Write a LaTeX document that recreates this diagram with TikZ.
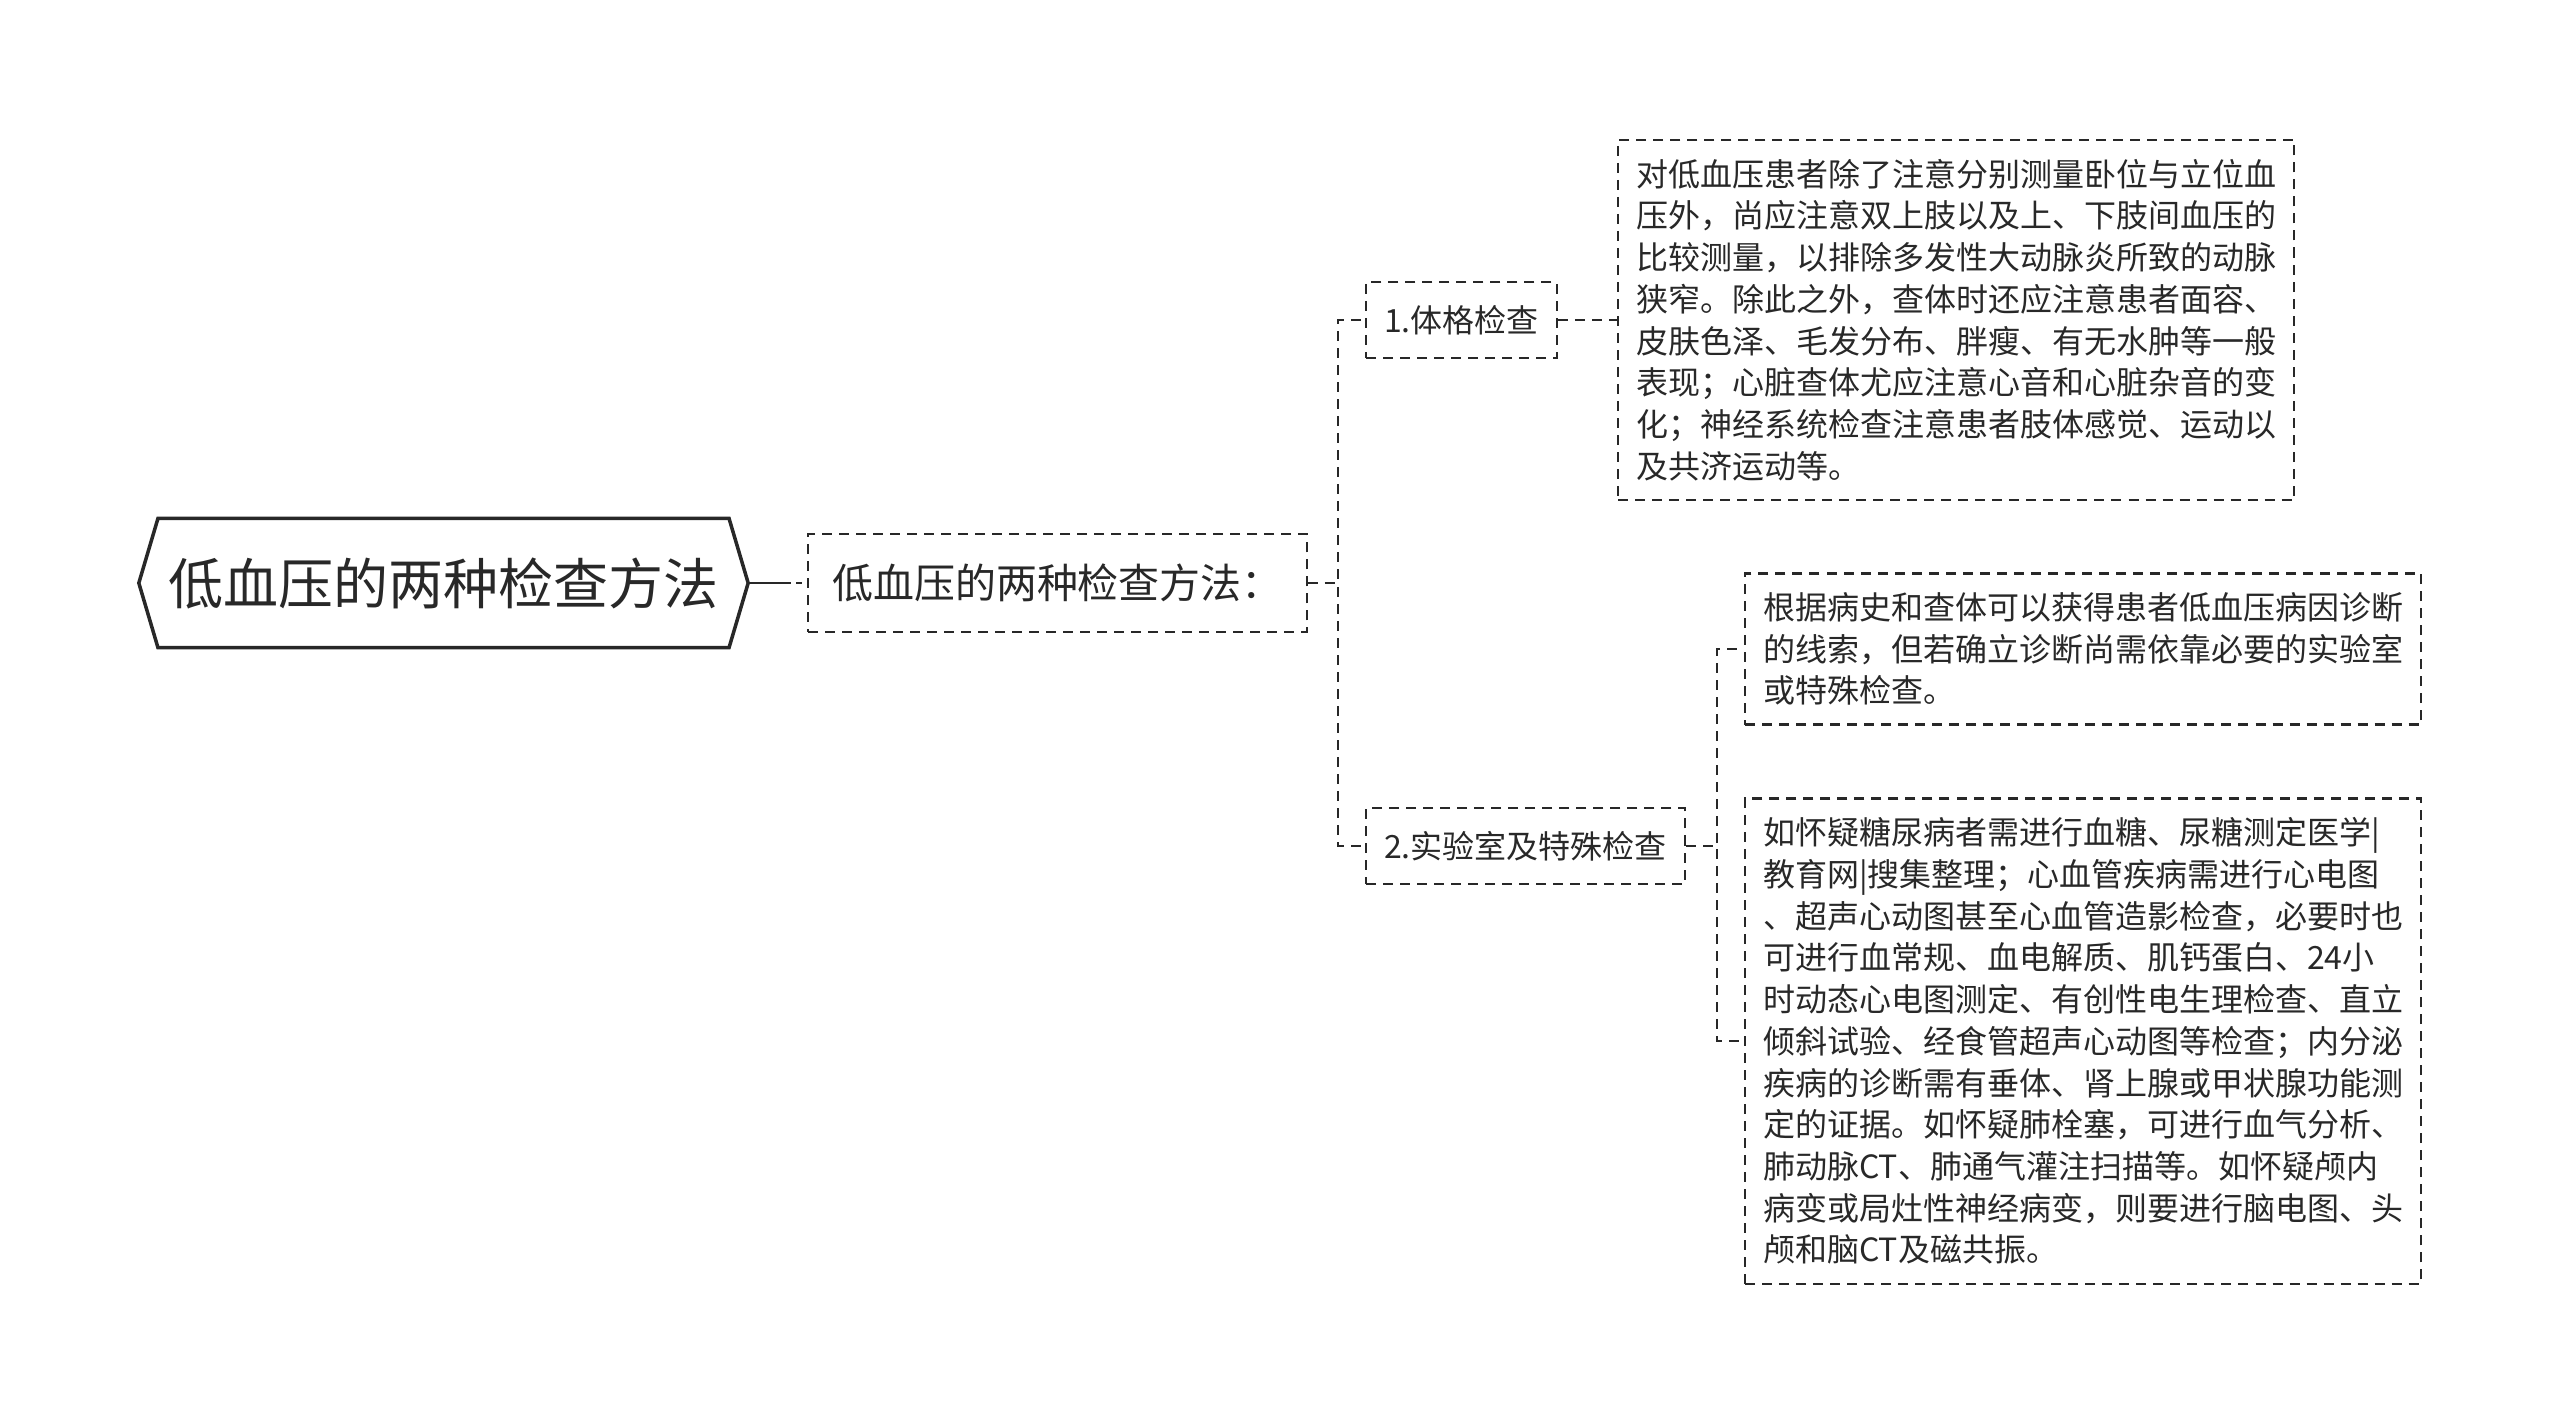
\documentclass[tikz,border=0pt]{standalone}
\usepackage{fontspec}
\setmainfont{Noto Sans CJK SC}
\usetikzlibrary{positioning,shapes.symbols}
\definecolor{inkgray}{RGB}{40,40,40}

\begin{document}
\begin{tikzpicture}[x=0.01cm,y=-0.01cm,
  font=\fontsize{9.1pt}{11.87pt}\selectfont,text=inkgray,
  root/.style={signal,signal to=west and east,signal pointer angle=147,
    draw=inkgray,line width=1pt,minimum width=6.09cm,minimum height=1.29cm,
    inner sep=0pt,font=\fontsize{15.65pt}{18pt}\selectfont},
  block/.style={draw=inkgray,dash pattern=on 0.1cm off 0.07cm,line width=0.65pt,
    align=left,anchor=west,inner xsep=0.18cm},
  sub/.style={block,minimum height=0.76cm},
  leaf/.style={block,inner ysep=0.19cm},
  conn/.style={draw=inkgray,dash pattern=on 0.1cm off 0.07cm,line width=0.65pt},
  rootconn/.style={draw=inkgray,line width=0.8pt,
    dash pattern=on 0.41cm off 0.05cm on 0.06cm off 1cm}]

  \useasboundingbox (0,0) rectangle (2560,1426);

  \node[root] (topic) at (443.5,583) {低血压的两种检查方法};

  \node[block,minimum height=0.98cm,inner xsep=0.24cm,
    font=\fontsize{11.65pt}{13pt}\selectfont] (intro) at (807,583)
    {低血压的两种检查方法：};
  \draw[rootconn] (topic.east) -- (intro.west);

  \node[sub] (exam) at (1365,320) {1.体格检查};
  \node[sub] (lab) at (1365,846) {2.实验室及特殊检查};
  \draw[conn] (intro.east) -- ++(30,0) |- (exam.west);
  \draw[conn] (intro.east) -- ++(30,0) |- (lab.west);

  \node[leaf,right=0.59cm of exam] (examtxt)
    {对低血压患者除了注意分别测量卧位与立位血\\
     压外，尚应注意双上肢以及上、下肢间血压的\\
     比较测量，以排除多发性大动脉炎所致的动脉\\
     狭窄。除此之外，查体时还应注意患者面容、\\
     皮肤色泽、毛发分布、胖瘦、有无水肿等一般\\
     表现；心脏查体尤应注意心音和心脏杂音的变\\
     化；神经系统检查注意患者肢体感觉、运动以\\
     及共济运动等。};
  \draw[conn] (exam.east) -- (examtxt.west);

  \node[leaf] (labcue) at (1744,649)
    {根据病史和查体可以获得患者低血压病因诊断\\
     的线索，但若确立诊断尚需依靠必要的实验室\\
     或特殊检查。};
  \node[leaf] (labtests) at (1744,1041)
    {如怀疑糖尿病者需进行血糖、尿糖测定医学|\\
     教育网|搜集整理；心血管疾病需进行心电图\\
     、超声心动图甚至心血管造影检查，必要时也\\
     可进行血常规、血电解质、肌钙蛋白、24小\\
     时动态心电图测定、有创性电生理检查、直立\\
     倾斜试验、经食管超声心动图等检查；内分泌\\
     疾病的诊断需有垂体、肾上腺或甲状腺功能测\\
     定的证据。如怀疑肺栓塞，可进行血气分析、\\
     肺动脉CT、肺通气灌注扫描等。如怀疑颅内\\
     病变或局灶性神经病变，则要进行脑电图、头\\
     颅和脑CT及磁共振。};
  \draw[conn] (lab.east) -- ++(31,0) |- (labcue.west);
  \draw[conn] (lab.east) -- ++(31,0) |- (labtests.west);

\end{tikzpicture}
\end{document}
